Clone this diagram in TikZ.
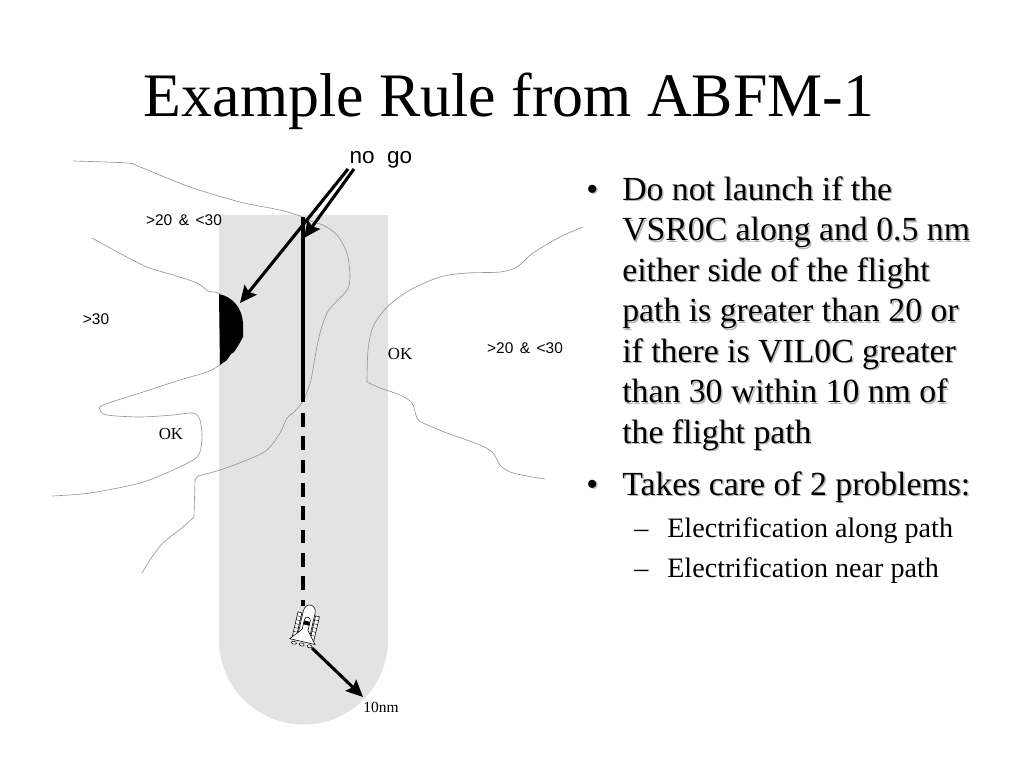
\documentclass[tikz,border=0pt]{standalone}
\usepackage{fontspec}
\setmainfont{Liberation Serif}
\newfontfamily\labelsans{Liberation Sans}
\usetikzlibrary{arrows.meta}
\definecolor{corridor}{RGB}{227,227,227}
\definecolor{isogray}{RGB}{150,150,150}
\begin{document}
\begin{tikzpicture}[x=0.25mm,y=-0.25mm,
    isoline/.style={draw=isogray,line width=0.45pt},
    region/.style={font=\labelsans\fontsize{11}{13}\selectfont},
    zone/.style={font=\fontsize{12}{14}\selectfont},
    bigarrow/.style={line width=2.2pt,-{Stealth[length=12pt,width=11pt,inset=2pt]}},
    bullettext/.style={anchor=base west,inner sep=0pt,font=\fontsize{24}{29}\selectfont},
    subtext/.style={anchor=base west,inner sep=0pt,font=\fontsize{20}{24}\selectfont}]
  \fill[white] (0,0) rectangle (1024,768);
  \useasboundingbox (0,0) rectangle (1024,768);
  \node[anchor=base,font=\fontsize{44}{53}\selectfont] (title) at (509,116) {Example Rule from ABFM-1};

  % flight corridor
  \fill[corridor] (219,215) -- (388,215) -- (388,640) arc[start angle=0,end angle=180,radius=84.5] -- cycle;
  \fill (219,294) .. controls (233,297) and (242,308) .. (243,323) -- (243,337) -- (238,346) -- (234,352) -- (231,354) -- (227,360) -- (220,365) -- cycle;

  \draw[isoline] plot[smooth,tension=0.5] coordinates {(73,161) (127,163) (140,167) (190,187) (240,202) (280,210) (300,216) (313,222) (323,225) (337,235) (347,253) (350,277) (347,290) (335,303) (327,313) (320,333) (315,357) (311,380) (305,397) (301,404) (293,413) (287,418) (280,433) (267,450) (247,460) (220,470) (198,476)};
  \draw[isoline] (198,476) -- (195,480) -- (194,517) plot[smooth,tension=0.5] coordinates {(194,517) (183,527) (163,543) (150,560) (142,573)};
  \draw[isoline] plot[smooth,tension=0.5] coordinates {(92,238) (123,255) (147,267) (173,275) (197,283) (208,291) (215,292) (220,294)};
  \draw[isoline] plot[smooth,tension=0.5] coordinates {(220,365) (207,372) (180,380) (140,393) (103,405) (100,410) (107,415) (140,417) (173,415) (193,413) (200,420) (202,440) (197,457) (173,470) (140,483) (90,493) (52,496)};
  \draw[isoline] plot[smooth,tension=0.5] coordinates {(583,227) (560,237) (533,253) (517,267) (500,272) (467,273) (440,277) (410,290) (387,307) (373,327) (368,350) (367,382)};
  \draw[isoline] plot[smooth,tension=0.5] coordinates {(367,382) (380,388) (400,395) (412,403) (417,418) (423,423) (447,433) (480,445) (493,453) (500,465) (510,472) (527,476) (545,479)};

  \node[region] (lowtop) at (184,220) {>20\hspace{0.42em}\&\hspace{0.42em}<30};
  \node[region] (high) at (96,319) {>30};
  \node[region] (lowright) at (525,348) {>20\hspace{0.42em}\&\hspace{0.42em}<30};
  \node[zone] (okright) at (400,354) {OK};
  \node[zone] (okleft) at (171,434) {OK};
  \node[font=\labelsans\fontsize{16}{19}\selectfont] (nogo) at (381,160) {no\ \ go};

  % flight path
  \coordinate (pathtop) at (303,217);
  \coordinate (pathmid) at (303,402);
  \coordinate (dashtop) at (303,413);
  \coordinate (dashend) at (303,606);
  \draw[line width=2.2pt] (pathtop) -- (pathmid);
  \draw[line width=2.2pt,dash pattern=on 9.6pt off 7pt] (dashtop) -- (dashend);

  \coordinate (nogoA) at (348,169);
  \coordinate (nogoB) at (354,169);
  \coordinate (cell) at (240,303);
  \coordinate (entry) at (304,238);
  \draw[bigarrow] (nogoA) -- (cell);
  \draw[bigarrow] (nogoB) -- (entry);

  % shuttle
  \begin{scope}[shift={(306,626)},rotate=-13,line width=0.4pt]
    \filldraw[fill=white] (-11,-12) rectangle (-7,14) (7,-12) rectangle (11,14);
    \foreach \s in {-8,-4,...,12}
      \draw[line width=0.3pt] (-11,\s) -- (-7,\s) (7,\s) -- (11,\s);
    \filldraw[fill=white] (-6,12) -- (-6,-14) .. controls (-6,-24) and (6,-24) .. (6,-14) -- (6,12) -- cycle;
    \filldraw[fill=white] (-3,-6) .. controls (-3,-10) and (3,-10) .. (3,-6) -- (3,4) -- (13,16) -- (-13,16) -- (-3,4) -- cycle;
    \fill (-3,-5) rectangle (3,-1);
    \filldraw[fill=white] (-8,19) ellipse (2.5 and 1.5) (8,19) ellipse (2.5 and 1.5) (0,19) ellipse (2.5 and 1.5);
  \end{scope}
  \coordinate (launch) at (312,648);
  \coordinate (reach) at (363,697);
  \draw[bigarrow] (launch) -- (reach);
  \node[font=\fontsize{11}{13}\selectfont] (range) at (381,707) {10nm};

  % rule text
  \foreach \line [count=\i] in {Do not launch if the,VSR0C along and 0.5 nm,either side of the flight,path is greater than 20 or,if there is VIL0C greater,than 30 within 10 nm of,the flight path}{
    \node[bullettext,text=black!28] at (623.5,{201.5+40.5*(\i-1)}) {\line};
    \node[bullettext] (rule\i) at (622,{200+40.5*(\i-1)}) {\line};
  }
  \node[bullettext,text=black!28] at (587.5,201.5) {•};
  \node[bullettext] (dotA) at (586,200) {•};
  \node[bullettext,text=black!28] at (623.5,496.5) {Takes care of 2 problems:};
  \node[bullettext] (care) at (622,495) {Takes care of 2 problems:};
  \node[bullettext,text=black!28] at (587.5,496.5) {•};
  \node[bullettext] (dotB) at (586,495) {•};
  \node[subtext] (dashA) at (634,537) {–};
  \node[subtext] (along) at (667,537) {Electrification along path};
  \node[subtext] (dashB) at (634,577) {–};
  \node[subtext] (near) at (667,577) {Electrification near path};
\end{tikzpicture}
\end{document}
